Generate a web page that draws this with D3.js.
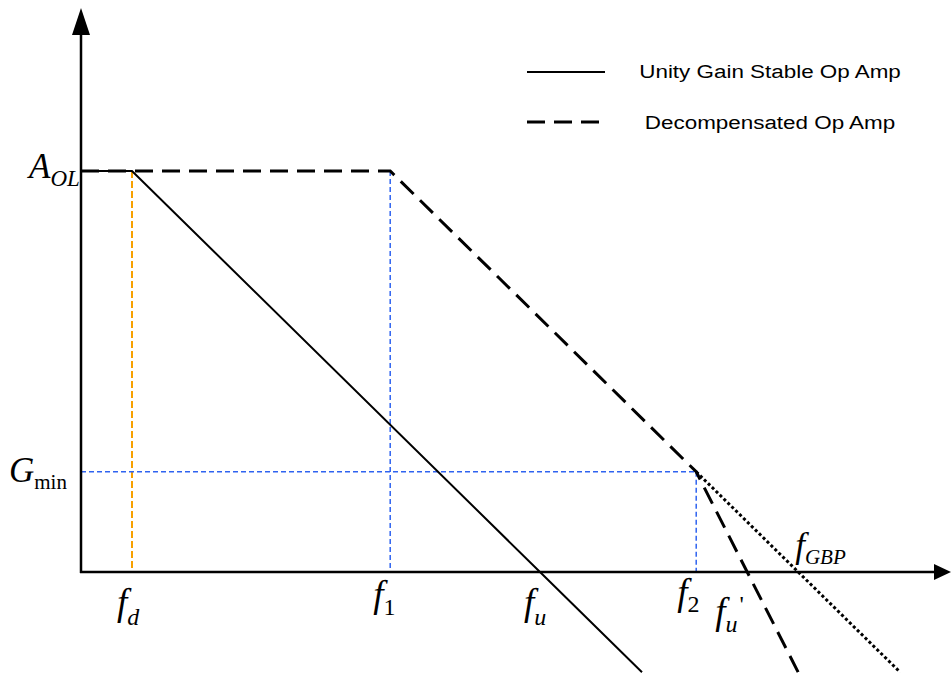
<!doctype html>
<html>
<head>
<title>Op Amp Bode</title>
<script src="https://cdnjs.cloudflare.com/ajax/libs/d3/7.8.5/d3.min.js"></script>
<style>
  body { margin: 0; background: #fff; }
  svg text { fill: #000; }
</style>
</head>
<body>
<div id="chartContainer"></div>
<script type="text/javascript">

// asymptotic Bode data, frequency in Hz, gain in dB
var unityFreq = [3.1623, 10, 1e5, 1e6];
var unityGain = [80, 80, 0, -20];

var decompFreq = [3.1623, 3400, 3.4e6, 1.0752e7, 3.4e7];
var decompGain = [80, 80, 20, 0, -20];

var gbpFreq = [3.4e6, 3.4e7, 3.4e8];
var gbpGain = [20, 0, -20];

var fd = 10, f1 = 3400, f2 = 3.4e6, fu = 1e5, fuPrime = 1.0752e7, fGBP = 3.4e7;
var AOL = 80, Gmin = 20;

var legendNames = ["Unity Gain Stable Op Amp", "Decompensated Op Amp"];

var width = 951, height = 675;

var svg = d3.select("#chartContainer").append("svg")
    .attr("width", width)
    .attr("height", height);

var x = d3.scaleLog().domain([3.1623, 1e9]).range([81, 948]);
var y = d3.scaleLinear().domain([0, 80]).range([572, 171]);

var line = d3.line()
    .x(function(d) { return x(d[0]); })
    .y(function(d) { return y(d[1]); });

function pairs(fs, gs) { return fs.map(function(f, i) { return [f, gs[i]]; }); }

var blue = "#2f63f0";

// guide lines
svg.append("line")
    .attr("x1", x(fd)).attr("x2", x(fd))
    .attr("y1", y(AOL)).attr("y2", y(0))
    .style("stroke", "#f7a000").style("stroke-width", 2)
    .style("stroke-dasharray", "7,3");

svg.append("line")
    .attr("x1", x(f1)).attr("x2", x(f1))
    .attr("y1", y(AOL)).attr("y2", y(0))
    .style("stroke", blue).style("stroke-width", 1.5)
    .style("stroke-dasharray", "5,3");

svg.append("line")
    .attr("x1", x(3.1623)).attr("x2", x(f2))
    .attr("y1", y(Gmin)).attr("y2", y(Gmin))
    .style("stroke", blue).style("stroke-width", 1.5)
    .style("stroke-dasharray", "5,3");

svg.append("line")
    .attr("x1", x(f2)).attr("x2", x(f2))
    .attr("y1", y(Gmin)).attr("y2", y(0))
    .style("stroke", blue).style("stroke-width", 1.5)
    .style("stroke-dasharray", "5,3");

// curves
svg.append("path")
    .attr("d", line(pairs(unityFreq, unityGain)))
    .style("fill", "none").style("stroke", "#000").style("stroke-width", 2);

svg.append("path")
    .attr("d", line(pairs(decompFreq, decompGain)))
    .style("fill", "none").style("stroke", "#000").style("stroke-width", 3)
    .style("stroke-dasharray", "18,9");

svg.append("path")
    .attr("d", line(pairs(gbpFreq, gbpGain)))
    .style("fill", "none").style("stroke", "#000").style("stroke-width", 3)
    .style("stroke-dasharray", "3,2.5");

// axes with arrows
svg.append("line")
    .attr("x1", 81).attr("x2", 81).attr("y1", y(0) + 1).attr("y2", 30)
    .style("stroke", "#000").style("stroke-width", 2.5);
svg.append("path")
    .attr("d", "M81,8 L72,35 L90,35 Z").style("fill", "#000");

svg.append("line")
    .attr("x1", 80).attr("x2", 940).attr("y1", y(0)).attr("y2", y(0))
    .style("stroke", "#000").style("stroke-width", 2.5);
svg.append("path")
    .attr("d", "M951,572 L934,564 L934,580 Z").style("fill", "#000");

// math labels
var serif = "'Liberation Serif', 'Times New Roman', serif";

function mathLabel(px, py, main, sub, subDy, subItalic, prime, size, subSize) {
  var t = svg.append("text")
      .attr("x", px).attr("y", py)
      .style("font-family", serif)
      .style("font-size", size + "px");
  t.append("tspan").style("font-style", "italic").text(main);
  t.append("tspan")
      .attr("dy", subDy)
      .style("font-size", subSize + "px")
      .style("font-style", subItalic ? "italic" : "normal")
      .text(sub);
  if (prime) {
    t.append("tspan")
        .attr("dx", 2).attr("dy", -20)
        .style("font-size", subSize + "px")
        .text("'");
  }
}

mathLabel(29, y(AOL) + 7, "A", "OL", 8, true, false, 35, 23);
mathLabel(9, y(Gmin) + 10, "G", "min", 7, false, false, 35, 21);

mathLabel(x(fd) - 15, 615, "f", "d", 10, true, false, 37, 24);
mathLabel(x(f1) - 17, 607, "f", "1", 8, false, false, 37, 24);
mathLabel(x(fu) - 16, 615, "f", "u", 10, true, false, 37, 24);
mathLabel(x(f2) - 19, 605, "f", "2", 7, false, false, 37, 24);
mathLabel(x(fuPrime) - 32, 624, "f", "u", 8, true, true, 37, 24);
mathLabel(x(fGBP) - 3, 557, "f", "GBP", 7, true, false, 35, 21);

// legend
var legend = svg.append("g");
legendNames.forEach(function(name, i) {
  var ly = i === 0 ? 72 : 122;
  legend.append("line")
      .attr("x1", 527).attr("x2", 605).attr("y1", ly).attr("y2", ly)
      .style("stroke", "#000")
      .style("stroke-width", i === 0 ? 2 : 3)
      .style("stroke-dasharray", i === 0 ? null : "18,9");
  legend.append("text")
      .attr("transform", "translate(770," + (i === 0 ? 78 : 129) + ") scale(1.18,1)")
      .attr("text-anchor", "middle")
      .style("font-family", "'Liberation Sans', Arial, sans-serif")
      .style("font-size", "19px")
      .text(name);
});

</script>
</body>
</html>
